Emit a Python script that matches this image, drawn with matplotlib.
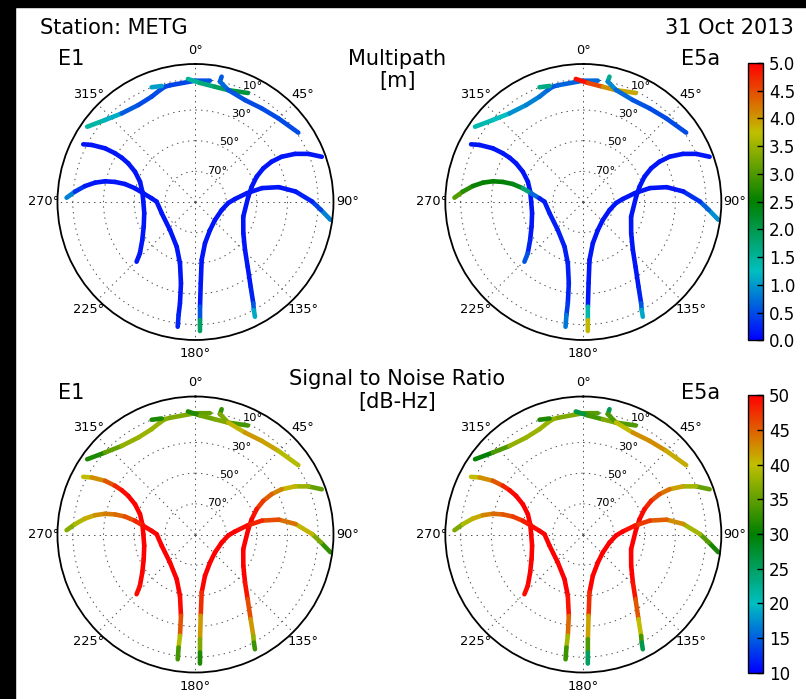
#
# imports
import numpy as np
import matplotlib
matplotlib.use('Agg')
import matplotlib.pyplot as plt
from matplotlib.patches import Rectangle
from matplotlib.colors import Normalize, LinearSegmentedColormap
from matplotlib import cm
#
plt.rcParams['lines.scale_dashes'] = False
#
# Satellite tracks: azimuth [deg] and elevation [deg]
track_az = [
    [304.8, 312.2, 320.2, 329.5, 337.4, 342.4, 345.2, 347.7, 359.8, 366.8],
    [339.1, 343.8],
    [356.5, 362.2, 369.6, 376.2, 385.7],
    [11.8, 11.5, 16.3, 25.9, 35.2, 44.7, 56.0],
    [297.2, 298.8, 300.7, 301.2, 301.0, 299.9, 296.6, 290.1, 281.0, 270.3,
     257.6, 244.5, 234.5, 227.3, 224.6],
    [271.9, 274.9, 278.2, 280.9, 282.9, 284.0, 284.3, 282.8, 279.5, 274.8,
     270.4, 251.5, 222.3, 202.8, 194.2, 190.1, 188.7, 188.5, 188.1],
    [70.3, 66.9, 64.2, 62.3, 62.1, 63.6, 67.5, 74.8, 84.3, 107.1,
     123.2, 134.1, 141.1, 146.9, 150.3, 151.6, 152.6],
    [97.5, 93.6, 89.8, 84.0, 79.9, 78.2, 80.2, 85.7, 91.7, 107.0,
     132.7, 152.6, 167.0, 173.9, 176.3, 177.5, 177.8, 178.0],
]
track_el = [
    [4.0, 10.4, 14.8, 16.6, 15.6, 13.4, 12.2, 12.1, 10.9, 10.3],
    [9.9, 11.2],
    [9.6, 12.3, 13.8, 14.0, 11.1],
    [6.5, 9.9, 13.9, 16.1, 15.2, 13.2, 9.1],
    [7.7, 12.8, 21.4, 28.6, 33.9, 39.4, 45.9, 51.5, 54.7, 56.0,
     55.8, 52.6, 47.4, 40.7, 35.3],
    [5.9, 11.1, 17.2, 23.3, 29.5, 35.9, 42.5, 49.5, 55.5, 61.3,
     64.7, 66.8, 65.3, 58.4, 48.8, 36.1, 23.2, 15.5, 7.8],
    [2.5, 10.0, 17.9, 26.5, 33.8, 40.6, 46.8, 52.0, 55.4, 57.4,
     52.7, 45.0, 35.8, 24.1, 13.9, 9.9, 5.7],
    [1.2, 8.0, 13.9, 24.4, 34.8, 45.6, 55.8, 64.2, 68.6, 72.1,
     72.7, 69.4, 62.4, 52.0, 36.9, 21.7, 13.0, 5.8],
]
# Multipath [m] along each track
mp_e1 = [
    [1.3, 1.6, 0.7, 0.5, 0.5, 0.5, 0.5, 0.4, 0.5, 0.6],
    [1.3, 0.8],
    [1.4, 1.6, 1.8, 2.0, 2.2],
    [0.4, 0.8, 0.6, 0.5, 0.5, 0.5, 0.5],
    [0.15, 0.15, 0.15, 0.15, 0.15, 0.15, 0.15, 0.15, 0.15, 0.15, 0.15, 0.15, 0.15, 0.15, 0.2],
    [1.2, 0.5, 0.2, 0.15, 0.15, 0.15, 0.15, 0.15, 0.15, 0.15, 0.15, 0.15, 0.15, 0.15, 0.15, 0.15, 0.15, 0.2, 0.3],
    [0.15, 0.15, 0.15, 0.15, 0.15, 0.15, 0.15, 0.15, 0.15, 0.15, 0.15, 0.15, 0.15, 0.15, 0.3, 0.9, 1.3],
    [1.1, 0.6, 0.3, 0.15, 0.15, 0.15, 0.15, 0.15, 0.15, 0.15, 0.15, 0.15, 0.15, 0.15, 0.15, 0.2, 0.9, 2.8],
]
mp_e5a = [
    [1.2, 1.5, 1.0, 0.9, 0.8, 0.7, 0.6, 0.6, 0.7, 0.7],
    [2.3, 1.0],
    [5.0, 4.8, 4.3, 3.8, 4.0],
    [2.2, 1.0, 0.8, 0.6, 0.5, 0.5, 0.5],
    [0.15, 0.15, 0.15, 0.15, 0.15, 0.15, 0.15, 0.15, 0.15, 0.15, 0.15, 0.15, 0.15, 0.3, 0.8],
    [3.2, 2.9, 2.6, 2.5, 2.5, 2.5, 2.4, 2.3, 1.2, 0.2, 0.2, 0.2, 0.2, 0.2, 0.2, 0.2, 0.3, 0.5, 1.1],
    [0.15, 0.15, 0.15, 0.15, 0.15, 0.15, 0.15, 0.15, 0.15, 0.15, 0.15, 0.15, 0.15, 0.15, 0.3, 0.9, 1.3],
    [1.1, 0.8, 0.5, 0.15, 0.15, 0.15, 0.15, 0.15, 0.15, 0.15, 0.15, 0.15, 0.15, 0.15, 0.15, 0.2, 2.6, 5.0],
]
# Signal to noise ratio [dB-Hz] along each track
snr_e1 = [
    [30, 33, 37, 38, 38, 38, 37, 37, 36, 34],
    [30, 33],
    [29, 34, 37, 36, 31],
    [31, 34, 39, 42, 42, 41, 38],
    [39, 41, 44, 47, 49, 50, 50, 50, 50, 50, 50, 50, 50, 50, 49],
    [36, 38, 40, 42, 43, 44, 45, 47, 49, 50, 50, 50, 50, 50, 50, 49, 42, 37, 30],
    [33, 37, 39, 42, 44, 46, 48, 50, 50, 50, 50, 50, 48, 44, 40, 35, 31],
    [30, 35, 38, 43, 45, 47, 49, 50, 50, 50, 50, 50, 50, 50, 45, 39, 34, 29],
]
snr_e5a = [
    [29, 31, 37, 38, 38, 38, 38, 37, 36, 33],
    [30, 33],
    [22, 31, 36, 37, 31],
    [22, 30, 38, 42, 43, 42, 40],
    [39, 41, 44, 47, 49, 50, 50, 50, 50, 50, 50, 50, 50, 50, 49],
    [35, 38, 40, 42, 44, 45, 46, 48, 49, 50, 50, 50, 50, 50, 50, 48, 41, 36, 30],
    [33, 37, 40, 43, 45, 47, 49, 50, 50, 50, 50, 50, 48, 43, 37, 30, 22],
    [29, 33, 36, 41, 44, 46, 48, 50, 50, 50, 50, 50, 50, 50, 45, 38, 30, 20],
]
#
theta_ticks = [0, 45, 90, 135, 180, 225, 270, 315]
elev_radii = [20, 40, 60, 80]
elev_labels = ['70°', '50°', '30°', '10°']
mp_ticks = [0.0, 0.5, 1.0, 1.5, 2.0, 2.5, 3.0, 3.5, 4.0, 4.5, 5.0]
snr_ticks = [10, 15, 20, 25, 30, 35, 40, 45, 50]
#
# blue - cyan - green - yellow - red (classic single letter colours)
cmap = LinearSegmentedColormap.from_list('bcgyr', ['b', 'c', 'g', 'y', 'r'], N=256)
mp_norm = Normalize(0.0, 5.0)
snr_norm = Normalize(10.0, 50.0)
#
#################################################################
def sky_axes(rect):
    ax = fig.add_axes(rect, projection='polar')
    ax.set_theta_zero_location('N')
    ax.set_theta_direction(-1)
    ax.set_xticks(np.deg2rad(theta_ticks))
    ax.set_xticklabels([])
    ax.set_yticks(elev_radii)
    ax.set_yticklabels([])
    ax.tick_params(length=0)
    ax.grid(True, color='0.3', linestyle=(0, (1, 3)), linewidth=0.7)
    ax.spines['polar'].set_linewidth(1.3)
    for t in theta_ticks:
        ax.text(np.deg2rad(t), 99, str(t) + '°', ha='center', va='center', fontsize=9.3)
    for r, lab in zip(elev_radii, elev_labels):
        ax.text(np.deg2rad(22.5), r, lab, ha='left', va='baseline', fontsize=8.2)
    return ax

def draw_tracks(ax, values, norm):
    for az, el, val in zip(track_az, track_el, values):
        th = np.deg2rad(az)
        r = 90.0 - np.array(el)
        for i in range(len(az) - 1):
            c = cmap(norm(0.5 * (val[i] + val[i + 1])))
            ax.plot(th[i:i + 2], r[i:i + 2], color=c, lw=3.3, solid_capstyle='round')
    ax.set_ylim(0, 90)

def add_cbar(rect, norm, ticks, fmt):
    cax = fig.add_axes(rect)
    sm = cm.ScalarMappable(norm=norm, cmap=cmap)
    cb = fig.colorbar(sm, cax=cax, ticks=ticks, format=fmt)
    cb.outline.set_linewidth(1.0)
    cax.tick_params(direction='in', length=4, width=1, labelsize=12, pad=4)
    return cb

#################################################################
fig = plt.figure(figsize=(8.06, 6.99), dpi=100)
fig.patch.set_facecolor('white')
# black border of the original screenshot
fig.add_artist(Rectangle((0, 0), 15 / 806., 1, transform=fig.transFigure, color='k', zorder=10))
fig.add_artist(Rectangle((0, 1 - 7 / 699.), 1, 7 / 699., transform=fig.transFigure, color='k', zorder=10))

w = 276 / 806.
h = 276 / 699.
ax1 = sky_axes([0.0713, 0.5136, w, h])
ax2 = sky_axes([0.5525, 0.5136, w, h])
ax3 = sky_axes([0.0713, 0.0379, w, h])
ax4 = sky_axes([0.5525, 0.0379, w, h])

draw_tracks(ax1, mp_e1, mp_norm)
draw_tracks(ax2, mp_e5a, mp_norm)
draw_tracks(ax3, snr_e1, snr_norm)
draw_tracks(ax4, snr_e5a, snr_norm)

add_cbar([0.9280, 0.5129, 0.0192, 0.3970], mp_norm, mp_ticks, '%.1f')
add_cbar([0.9280, 0.0372, 0.0192, 0.3977], snr_norm, snr_ticks, '%d')

# Texts
fig.text(0.0502, 1 - 34.3 / 699., 'Station: METG', fontsize=15, ha='left', va='baseline')
fig.text(0.9851, 1 - 34.3 / 699., '31 Oct 2013', fontsize=15, ha='right', va='baseline')
fig.text(0.0720, 1 - 65 / 699., 'E1', fontsize=15, ha='left', va='baseline')
fig.text(0.8939, 1 - 65 / 699., 'E5a', fontsize=15, ha='right', va='baseline')
fig.text(0.4926, 1 - 65 / 699., 'Multipath', fontsize=15, ha='center', va='baseline')
fig.text(0.4926, 1 - 87.5 / 699., '[m]', fontsize=15, ha='center', va='baseline')
fig.text(0.0720, 1 - 399.3 / 699., 'E1', fontsize=15, ha='left', va='baseline')
fig.text(0.8939, 1 - 399.3 / 699., 'E5a', fontsize=15, ha='right', va='baseline')
fig.text(0.4926, 1 - 385 / 699., 'Signal to Noise Ratio', fontsize=15, ha='center', va='baseline')
fig.text(0.4926, 1 - 407.5 / 699., '[dB-Hz]', fontsize=15, ha='center', va='baseline')

fig.savefig('out.png', dpi=100)
